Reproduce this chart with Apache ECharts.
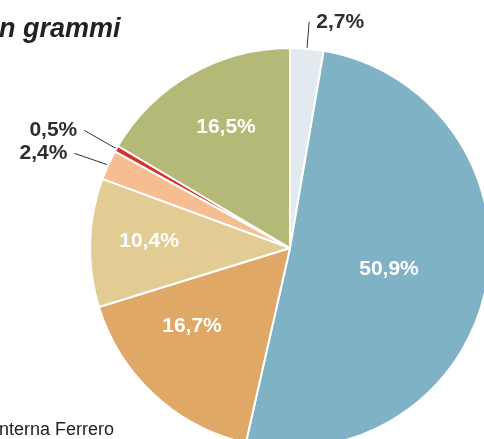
<!DOCTYPE html>
<html>
<head>
    <meta charset="utf-8">
    <title>Quote in grammi</title>
    <script src="https://cdn.jsdelivr.net/npm/echarts@6/dist/echarts.min.js"></script>
</head>
<body style="margin:0">
    <div id="chart" style="width: 484px; height: 439px;"></div>

    <script>
    // shares in %, clockwise from 12 o'clock
    const shares = [2.7, 50.9, 16.7, 10.4, 2.4, 0.5, 16.5];
    const sliceColors = ['#e3eaef', '#7fb2c5', '#e0a866', '#e3cc94', '#f5bd90', '#d6332e', '#b4b978'];
    // which slices carry their label outside with a leader line
    const outsideLabel = [true, false, false, false, true, true, false];

    // leader line lengths and inside-label nudges, as placed in the original
    const leaderLen = { 0: 27, 4: 38, 5: 37 };
    const nudge = { 2: [-28, 3], 3: [-38, -4], 6: [-13, -31], 1: [-2, 1] };

    const fmt = v => v.toFixed(1).replace('.', ',') + '%';

    const chart = echarts.init(document.getElementById('chart'));

    const data = shares.map((v, i) => ({
        value: v,
        itemStyle: { color: sliceColors[i] },
        label: outsideLabel[i]
            ? { position: 'outside', color: '#2e2e2e', fontSize: 21, fontWeight: 'bold', distanceToLabelLine: 7 }
            : { position: 'inside', color: '#ffffff', fontSize: 21, fontWeight: 'bold' },
        labelLine: outsideLabel[i] ? { show: true, length: leaderLen[i] } : { show: false }
    }));

    const option = {
        animation: false,
        graphic: [
            {
                type: 'text', left: -1, top: 16,
                style: { text: 'n grammi', font: 'italic bold 27px "Liberation Sans", Arial, sans-serif', fill: '#222' }
            },
            {
                type: 'text', left: -1, top: 421,
                style: { text: 'nterna Ferrero', font: '18px "Liberation Sans", Arial, sans-serif', fill: '#222' }
            }
        ],
        series: [{
            type: 'pie',
            center: [290, 248],
            radius: [0, 200],
            startAngle: 90,
            clockwise: true,
            avoidLabelOverlap: true,
            itemStyle: { borderColor: '#ffffff', borderWidth: 2 },
            label: {
                fontFamily: '"Liberation Sans", Arial, sans-serif',
                formatter: p => fmt(p.value)
            },
            labelLine: {
                length: 33,
                length2: 0,
                smooth: false,
                lineStyle: { color: '#333', width: 1 }
            },
            labelLayout: p => {
                const d = nudge[p.dataIndex];
                return d ? { dx: d[0], dy: d[1] } : {};
            },
            data: data
        }]
    };

    chart.setOption(option);
    </script>
</body>
</html>
